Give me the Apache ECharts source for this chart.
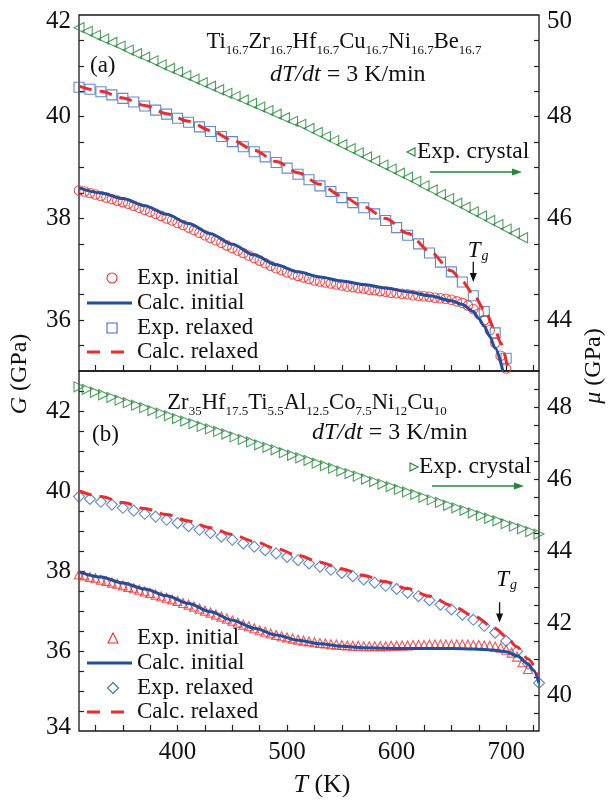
<!DOCTYPE html>
<html><head><meta charset="utf-8">
<script src="https://cdn.jsdelivr.net/npm/echarts@6/dist/echarts.min.js"></script>
<style>html,body{margin:0;padding:0;background:#fff}#c{width:609px;height:801px}</style>
</head><body><div id="c"></div>
<script>
// ---------- data: panel (a) Ti16.7Zr16.7Hf16.7Cu16.7Ni16.7Be16.7 ----------
const tExpInitA = [310,315,320,325,330,335,340,345,350,355,360,365,370,375,380,385,390,395,400,405,410,415,420,425,430,435,440,445,450,455,460,465,470,475,480,485,490,495,500,505,510,515,520,525,530,535,540,545,550,555,560,565,570,575,580,585,590,595,600,605,610,615,620,625,630,635,640,645,650,655,660,665,670,675,680,685,690,695,700];
const gExpInitA = [38.55,38.53,38.50,38.47,38.44,38.41,38.38,38.35,38.32,38.29,38.25,38.21,38.17,38.13,38.09,38.05,38.00,37.96,37.91,37.87,37.82,37.77,37.72,37.67,37.62,37.57,37.52,37.47,37.42,37.37,37.32,37.27,37.22,37.17,37.12,37.07,37.02,36.98,36.94,36.90,36.87,36.84,36.81,36.78,36.76,36.74,36.72,36.70,36.68,36.66,36.65,36.63,36.62,36.60,36.59,36.57,36.56,36.54,36.53,36.52,36.51,36.49,36.48,36.47,36.46,36.44,36.43,36.42,36.40,36.37,36.34,36.29,36.22,36.13,36.00,35.80,35.55,35.30,35.05];
const tCalcInitA = [310,330,350,370,390,410,430,450,470,490,510,530,550,570,590,610,630,650,660,670,675,680,685,690,697];
const gCalcInitA = [38.60,38.50,38.39,38.25,38.08,37.90,37.70,37.49,37.28,37.09,36.95,36.85,36.77,36.70,36.63,36.56,36.48,36.38,36.31,36.17,36.03,35.88,35.68,35.45,35.00];
const tExpRelA = [310,320,330,340,350,360,370,380,390,400,410,420,430,440,450,460,470,480,490,500,510,520,530,540,550,560,570,580,590,600,610,620,630,640,650,660,670,680,690,700];
const gExpRelA = [40.58,40.54,40.49,40.43,40.36,40.29,40.21,40.13,40.05,39.97,39.89,39.80,39.71,39.61,39.51,39.41,39.31,39.21,39.10,38.99,38.87,38.76,38.64,38.53,38.41,38.31,38.21,38.09,37.96,37.82,37.67,37.50,37.32,37.14,36.95,36.75,36.48,36.17,35.75,35.25];
const tCalcRelA = [310,330,350,370,390,410,430,450,470,490,510,530,550,570,590,610,630,650,660,670,680,690,695,702];
const gCalcRelA = [40.60,40.50,40.37,40.22,40.06,39.91,39.73,39.54,39.34,39.12,38.90,38.67,38.44,38.23,38.00,37.71,37.36,36.97,36.76,36.51,36.21,35.81,35.55,35.00];
const tCryA = [310,317.5,325,332.5,340,347.5,355,362.5,370,377.5,385,392.5,400,407.5,415,422.5,430,437.5,445,452.5,460,467.5,475,482.5,490,497.5,505,512.5,520,527.5,535,542.5,550,557.5,565,572.5,580,587.5,595,602.5,610,617.5,625,632.5,640,647.5,655,662.5,670,677.5,685,692.5,700,707.5,715];
const muCryA = [49.75,49.68,49.60,49.53,49.46,49.39,49.31,49.24,49.17,49.10,49.02,48.95,48.88,48.81,48.74,48.67,48.60,48.53,48.46,48.40,48.33,48.26,48.19,48.12,48.05,47.98,47.91,47.85,47.77,47.69,47.61,47.53,47.45,47.37,47.29,47.21,47.13,47.05,46.97,46.89,46.81,46.73,46.64,46.56,46.47,46.39,46.30,46.22,46.13,46.05,45.96,45.88,45.79,45.71,45.62];

// ---------- data: panel (b) Zr35Hf17.5Ti5.5Al12.5Co7.5Ni12Cu10 ----------
const tExpInitB = [310,315,320,325,330,335,340,345,350,355,360,365,370,375,380,385,390,395,400,405,410,415,420,425,430,435,440,445,450,455,460,465,470,475,480,485,490,495,500,505,510,515,520,525,530,535,540,545,550,555,560,565,570,575,580,585,590,595,600,605,610,615,620,625,630,635,640,645,650,655,660,665,670,675,680,685,690,695,700,705,710,715,720];
const gExpInitB = [37.92,37.89,37.85,37.82,37.78,37.75,37.71,37.68,37.64,37.60,37.57,37.53,37.49,37.45,37.41,37.37,37.33,37.29,37.25,37.20,37.16,37.11,37.06,37.01,36.96,36.91,36.86,36.81,36.76,36.71,36.66,36.62,36.57,36.52,36.48,36.44,36.40,36.37,36.34,36.31,36.28,36.26,36.24,36.22,36.20,36.19,36.17,36.16,36.15,36.14,36.13,36.13,36.12,36.12,36.12,36.12,36.12,36.13,36.13,36.14,36.14,36.15,36.15,36.15,36.16,36.16,36.16,36.16,36.16,36.16,36.16,36.16,36.15,36.15,36.14,36.13,36.11,36.08,36.03,35.96,35.86,35.72,35.55];
const tCalcInitB = [310,330,350,370,390,410,430,450,470,490,510,530,550,570,590,610,630,650,670,690,700,710,720,725,730];
const gCalcInitB = [37.98,37.85,37.70,37.55,37.38,37.19,36.98,36.77,36.57,36.40,36.27,36.18,36.12,36.08,36.07,36.06,36.06,36.06,36.05,36.02,35.98,35.88,35.68,35.52,35.20];
const tExpRelB = [310,320,330,340,350,360,370,380,390,400,410,420,430,440,450,460,470,480,490,500,510,520,530,540,550,560,570,580,590,600,610,620,630,640,650,660,670,680,690,700,710,720,730];
const gExpRelB = [39.86,39.80,39.73,39.66,39.58,39.51,39.43,39.36,39.28,39.20,39.12,39.03,38.95,38.86,38.78,38.69,38.61,38.52,38.44,38.35,38.27,38.19,38.11,38.03,37.95,37.87,37.79,37.71,37.63,37.55,37.46,37.37,37.27,37.16,37.04,36.91,36.78,36.63,36.46,36.25,35.99,35.68,35.20];
const tCalcRelB = [310,330,350,370,390,410,430,450,470,490,510,530,550,570,590,610,630,650,670,690,700,710,720,730];
const gCalcRelB = [40.00,39.86,39.71,39.56,39.41,39.25,39.08,38.91,38.74,38.56,38.39,38.22,38.05,37.89,37.73,37.56,37.37,37.14,36.88,36.56,36.36,36.10,35.80,35.38];
const tCryB = [310,317.5,325,332.5,340,347.5,355,362.5,370,377.5,385,392.5,400,407.5,415,422.5,430,437.5,445,452.5,460,467.5,475,482.5,490,497.5,505,512.5,520,527.5,535,542.5,550,557.5,565,572.5,580,587.5,595,602.5,610,617.5,625,632.5,640,647.5,655,662.5,670,677.5,685,692.5,700,707.5,715,722.5,730];
const muCryB = [48.56,48.49,48.41,48.34,48.27,48.19,48.12,48.05,47.98,47.90,47.83,47.76,47.68,47.61,47.54,47.46,47.39,47.32,47.25,47.17,47.10,47.03,46.95,46.88,46.81,46.73,46.66,46.59,46.52,46.44,46.37,46.30,46.22,46.15,46.08,46.00,45.93,45.86,45.79,45.71,45.64,45.57,45.49,45.42,45.35,45.27,45.20,45.13,45.06,44.98,44.91,44.84,44.76,44.69,44.62,44.54,44.47];

// ---------- axes ticks / labels ----------
const xTicks = [325,350,375,400,425,450,475,500,525,550,575,600,625,650,675,700,725];
const xLabels = [400,500,600,700];
const yTicksA = [35.5,36,36.5,37,37.5,38,38.5,39,39.5,40,40.5,41,41.5];
const yLabelsA = [36,38,40,42];
const yTicksAR = [43.5,44,44.5,45,45.5,46,46.5,47,47.5,48,48.5,49,49.5];
const yLabelsAR = [44,46,48,50];
const yTicksB = [34.5,35,35.5,36,36.5,37,37.5,38,38.5,39,39.5,40,40.5,41,41.5,42,42.5];
const yLabelsB = [34,36,38,40,42];
const yTicksBR = [39.5,40,40.5,41,41.5,42,42.5,43,43.5,44,44.5,45,45.5,46,46.5,47,47.5,48,48.5];
const yLabelsBR = [40,42,44,46,48];

// legend labels
const legendNames = ['Exp. initial','Calc. initial','Exp. relaxed','Calc. relaxed'];
const crystalName = 'Exp. crystal';

// annotation anchors (data coords)
const tgA = {t:670, gTop:37.15, gTip:36.75, labT:665, labG:37.36};
const tgB = {t:694, gTop:37.22, gTip:36.71, labT:691, labG:37.76};

const FONT = "'Liberation Serif','Times New Roman',serif";
const RED = '#ee2b2b', BLUEL = '#1f4f9f', BLUEM = '#3a6bbf', GREEN = '#23883a', INK = '#111';
const zip = (a,b) => a.map((v,i)=>[v,b[i]]);

const chart = echarts.init(document.getElementById('c'), null, {renderer:'canvas'});

function xAx(gi, labels){
  return {type:'value', gridIndex:gi, min:310, max:730,
    axisLine:{show:false}, splitLine:{show:false},
    axisTick:{show:true, inside:true, length:6, customValues:xTicks, lineStyle:{color:'#222', width:1.2}},
    axisLabel: labels ? {show:true, customValues:xLabels, fontFamily:FONT, fontSize:25, color:INK, margin:9} : {show:false}};
}
function yAx(gi, pos, min, max, ticks, labels, shiftTop, shiftBottom){
  return {type:'value', gridIndex:gi, position:pos, min:min, max:max,
    axisLine:{show:false}, splitLine:{show:false},
    axisTick:{show:true, inside:true, length:5, customValues:ticks, lineStyle:{color:'#222', width:1.2}},
    axisLabel:{show:true, customValues:labels, fontFamily:FONT, fontSize:25, color:INK, margin:8,
      formatter: v => (v===shiftTop ? '{d|'+v+'}' : (v===shiftBottom ? '{u|'+v+'}' : ''+v)),
      rich:{d:{fontFamily:FONT, fontSize:25, color:INK, padding:[12,0,0,0]},
            u:{fontFamily:FONT, fontSize:25, color:INK, padding:[0,0,8,0]}}}};
}
const hollow = c => ({color:'rgba(0,0,0,0)', borderColor:c, borderWidth:1.1});

const option = {
  animation:false,
  backgroundColor:'#fff',
  grid:[
    {left:79, top:15, width:460, height:356, show:true, borderColor:'#1a1a1a', borderWidth:1.3, backgroundColor:'rgba(0,0,0,0)'},
    {left:79, top:371, width:460, height:360, show:true, borderColor:'#1a1a1a', borderWidth:1.3, backgroundColor:'rgba(0,0,0,0)'}
  ],
  xAxis:[xAx(0,false), xAx(1,true)],
  yAxis:[
    yAx(0,'left',35,42,yTicksA,yLabelsA,42,null),
    yAx(0,'right',43,50,yTicksAR,yLabelsAR,50,null),
    yAx(1,'left',34,43,yTicksB,yLabelsB,null,34),
    yAx(1,'right',39,49,yTicksBR,yLabelsBR,null,null)
  ],
  series:[
    {name:'a:Exp. crystal', type:'scatter', xAxisIndex:0, yAxisIndex:1, symbol:'triangle', symbolRotate:90, symbolSize:10,
      itemStyle:hollow(GREEN), data:zip(tCryA, muCryA), z:2},
    {name:'a:Exp. initial', type:'scatter', xAxisIndex:0, yAxisIndex:0, symbol:'circle', symbolSize:9.5,
      itemStyle:hollow(RED), data:zip(tExpInitA, gExpInitA), z:2},
    {name:'a:Exp. relaxed', type:'scatter', xAxisIndex:0, yAxisIndex:0, symbol:'rect', symbolSize:10,
      itemStyle:hollow(BLUEM), data:zip(tExpRelA, gExpRelA), z:2},
    {name:'a:Calc. initial', type:'line', xAxisIndex:0, yAxisIndex:0, symbol:'none', smooth:0.3, smoothMonotone:'x',
      lineStyle:{color:BLUEL, width:3}, itemStyle:{color:BLUEL}, data:zip(tCalcInitA, gCalcInitA), z:3},
    {name:'a:Calc. relaxed', type:'line', xAxisIndex:0, yAxisIndex:0, symbol:'none', smooth:0.3, smoothMonotone:'x',
      lineStyle:{color:RED, width:3, type:[13,8]}, itemStyle:{color:RED}, data:zip(tCalcRelA, gCalcRelA), z:4},

    {name:'b:Exp. crystal', type:'scatter', xAxisIndex:1, yAxisIndex:3, symbol:'triangle', symbolRotate:-90, symbolSize:10,
      itemStyle:hollow(GREEN), data:zip(tCryB, muCryB), z:2},
    {name:'b:Exp. initial', type:'scatter', xAxisIndex:1, yAxisIndex:2, symbol:'triangle', symbolSize:9,
      itemStyle:hollow(RED), data:zip(tExpInitB, gExpInitB), z:2},
    {name:'b:Exp. relaxed', type:'scatter', xAxisIndex:1, yAxisIndex:2, symbol:'diamond', symbolSize:11,
      itemStyle:hollow(BLUEM), data:zip(tExpRelB, gExpRelB), z:2},
    {name:'b:Calc. initial', type:'line', xAxisIndex:1, yAxisIndex:2, symbol:'none', smooth:0.3, smoothMonotone:'x',
      lineStyle:{color:BLUEL, width:3}, itemStyle:{color:BLUEL}, data:zip(tCalcInitB, gCalcInitB), z:3},
    {name:'b:Calc. relaxed', type:'line', xAxisIndex:1, yAxisIndex:2, symbol:'none', smooth:0.3, smoothMonotone:'x',
      lineStyle:{color:RED, width:3, type:[13,8]}, itemStyle:{color:RED}, data:zip(tCalcRelB, gCalcRelB), z:4}
  ]
};
chart.setOption(option);

// ---------- annotations & legend keys ----------
function P(gi, t, g){ return chart.convertToPixel({xAxisIndex:gi, yAxisIndex: gi===0 ? 0 : 2}, [t, g]); }
function downArrow(gi, a){
  const p1 = P(gi, a.t, a.gTop), p2 = P(gi, a.t, a.gTip);
  return [
    {type:'line', shape:{x1:p1[0], y1:p1[1], x2:p2[0], y2:p2[1]-7}, style:{stroke:'#111', lineWidth:1.3}, z:50},
    {type:'polygon', shape:{points:[[p2[0],p2[1]],[p2[0]-3.5,p2[1]-9],[p2[0]+3.5,p2[1]-9]]}, style:{fill:'#111'}, z:50}
  ];
}
function tgLabel(gi, a){
  const p = P(gi, a.labT, a.labG);
  return {type:'text', x:p[0], y:p[1], z:50, style:{text:'{i|T}{s|g}', align:'left', verticalAlign:'middle',
    rich:{i:{fontFamily:FONT, fontStyle:'italic', fontSize:23, fill:INK, lineHeight:24, verticalAlign:'top'},
          s:{fontFamily:FONT, fontStyle:'italic', fontSize:14, fill:INK, lineHeight:14, verticalAlign:'bottom', padding:[0,0,0,1]}}}};
}
function rightArrow(x1, x2, y){
  return [
    {type:'line', shape:{x1:x1, y1:y, x2:x2-8, y2:y}, style:{stroke:GREEN, lineWidth:1.6}, z:50},
    {type:'polygon', shape:{points:[[x2,y],[x2-10,y-3.6],[x2-10,y+3.6]]}, style:{fill:GREEN}, z:50}
  ];
}
const compRich = {
  m:{fontFamily:FONT, fontSize:22.6, fill:INK, lineHeight:26, verticalAlign:'top'},
  s:{fontFamily:FONT, fontSize:13, fill:INK, lineHeight:14, verticalAlign:'bottom'}
};
const rateRich = {
  i:{fontFamily:FONT, fontStyle:'italic', fontSize:24, fill:INK},
  n:{fontFamily:FONT, fontSize:24, fill:INK}
};
function txt(x, y, text, rich, align, extra){
  return Object.assign({type:'text', x:x, y:y, z:50, style:{text:text, rich:rich, align:align||'left', verticalAlign:'middle'}}, extra||{});
}
const plain = {n:{fontFamily:FONT, fontSize:23, fill:INK}};
const plain24 = {n:{fontFamily:FONT, fontSize:23.5, fill:INK}};
const hstroke = c => ({fill:'none', stroke:c, lineWidth:1.1});
function tri(cx, cy, s, dir){ // dir: 'up' | 'left' | 'right'
  const h = s/2;
  if (dir==='left') return [[cx-h,cy],[cx+h,cy-h],[cx+h,cy+h]];
  if (dir==='right') return [[cx+h,cy],[cx-h,cy-h],[cx-h,cy+h]];
  return [[cx,cy-h],[cx+h,cy+h],[cx-h,cy+h]];
}
function legendBlock(rows, keys){
  const out = [];
  rows.forEach((y,i)=>{
    const k = keys[i];
    if (k.kind==='line') out.push({type:'line', z:50, shape:{x1:87, y1:y, x2:k.dash?125:132, y2:y}, style:{stroke:k.color, lineWidth:3, lineDash:k.dash||null}});
    else if (k.kind==='circle') out.push({type:'circle', z:50, shape:{cx:112, cy:y, r:5}, style:hstroke(k.color)});
    else if (k.kind==='rect') out.push({type:'rect', z:50, shape:{x:107, y:y-5, width:10, height:10}, style:hstroke(k.color)});
    else if (k.kind==='tri') out.push({type:'polygon', z:50, shape:{points:tri(113, y, 10, 'up')}, style:hstroke(k.color)});
    else if (k.kind==='diamond') out.push({type:'polygon', z:50, shape:{points:[[113,y-5.5],[118.5,y],[113,y+5.5],[107.5,y]]}, style:hstroke(k.color)});
    out.push(txt(137, y, '{n|'+legendNames[i]+'}', plain));
  });
  return out;
}

const graphics = [].concat(
  [txt(344, 44, '{m|Ti}{s|16.7}{m|Zr}{s|16.7}{m|Hf}{s|16.7}{m|Cu}{s|16.7}{m|Ni}{s|16.7}{m|Be}{s|16.7}', compRich, 'center')],
  [txt(270, 75, '{i|dT}{i|/}{i|dt}{n| = 3 K/min}', rateRich)],
  [txt(90, 66, '{n|(a)}', plain)],
  [txt(307, 405, '{m|Zr}{s|35}{m|Hf}{s|17.5}{m|Ti}{s|5.5}{m|Al}{s|12.5}{m|Co}{s|7.5}{m|Ni}{s|12}{m|Cu}{s|10}', compRich, 'center')],
  [txt(312, 433, '{i|dT}{i|/}{i|dt}{n| = 3 K/min}', rateRich)],
  [txt(92, 435, '{n|(b)}', plain)],
  legendBlock([278,303,328,352], [{kind:'circle',color:RED},{kind:'line',color:BLUEL},{kind:'rect',color:BLUEM},{kind:'line',color:RED,dash:[13,11]}]),
  legendBlock([638,663,688,712], [{kind:'tri',color:RED},{kind:'line',color:BLUEL},{kind:'diamond',color:BLUEM},{kind:'line',color:RED,dash:[13,11]}]),
  [{type:'polygon', z:50, shape:{points:tri(411, 152, 8, 'left')}, style:hstroke(GREEN)}, txt(417, 152, '{n|'+crystalName+'}', plain24)],
  [{type:'polygon', z:50, shape:{points:tri(414, 467, 8, 'right')}, style:hstroke(GREEN)}, txt(419, 467, '{n|'+crystalName+'}', plain24)],
  rightArrow(430, 522, 172),
  rightArrow(432, 524, 486),
  downArrow(0, tgA), [tgLabel(0, tgA)],
  downArrow(1, tgB), [tgLabel(1, tgB)],
  [txt(20, 374, '{i|G}{n| (GPa)}', {i:{fontFamily:FONT, fontStyle:'italic', fontSize:24, fill:INK}, n:{fontFamily:FONT, fontSize:24, fill:INK}}, 'center', {rotation:Math.PI/2})],
  [txt(594, 366, '{i|μ}{n| (GPa)}', {i:{fontFamily:FONT, fontStyle:'italic', fontSize:24, fill:INK}, n:{fontFamily:FONT, fontSize:24, fill:INK}}, 'center', {rotation:Math.PI/2})],
  [txt(322, 785, '{i|T}{n| (K)}', {i:{fontFamily:FONT, fontStyle:'italic', fontSize:26, fill:INK}, n:{fontFamily:FONT, fontSize:26, fill:INK}}, 'center')]
);
chart.setOption({graphic: graphics});
</script>
</body></html>
